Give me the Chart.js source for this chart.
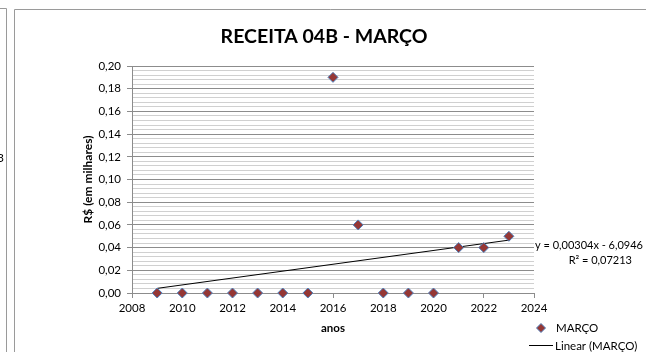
<!DOCTYPE html>
<html>
<head>
<meta charset="utf-8">
<script src="https://cdn.jsdelivr.net/npm/chart.js@4/dist/chart.umd.min.js"></script>
<style>
  html, body { margin: 0; padding: 0; background: #fff; }
  #wrap { position: relative; width: 646px; height: 352px; }
</style>
</head>
<body>
<div id="wrap"><canvas id="c" width="646" height="352"></canvas></div>
<script>
// Chart texts
const chartTitle = 'RECEITA 04B - MARÇO';
const seriesName = 'MARÇO';
const trendName = 'Linear (MARÇO)';
const yAxisTitle = 'R$ (em milhares)';
const xAxisTitle = 'anos';
const equationText = 'y = 0,00304x - 6,0946';
const r2Text = 'R² = 0,07213';
const sideLabel = '3';

// Data: March revenue per year (R$ thousands)
const years = [2009, 2010, 2011, 2012, 2013, 2014, 2015, 2016, 2017, 2018, 2019, 2020, 2021, 2022, 2023];
const marco = [0, 0, 0, 0, 0, 0, 0, 0.19, 0.06, 0, 0, 0, 0.04, 0.04, 0.05];

// Axis tick settings
const xTickMin = 2008, xTickMax = 2024, xTickStep = 2;
const yTickMin = 0, yTickMax = 0.2, yMajorStep = 0.02, yMinorStep = 0.004;

// Least-squares linear trend of the series
function linearFit(xs, ys) {
  const n = xs.length;
  const mx = xs.reduce((a, b) => a + b, 0) / n;
  const my = ys.reduce((a, b) => a + b, 0) / n;
  let sxy = 0, sxx = 0;
  for (let i = 0; i < n; i++) { sxy += (xs[i] - mx) * (ys[i] - my); sxx += (xs[i] - mx) ** 2; }
  const slope = sxy / sxx;
  return { slope, intercept: my - slope * mx };
}
const fit = linearFit(years, marco);
const trendX = [years[0], years[years.length - 1]];

const points = years.map((x, i) => ({ x, y: marco[i] }));
const trendPoints = trendX.map(x => ({ x, y: fit.slope * x + fit.intercept }));

const FONT = 'Lato, "Open Sans", sans-serif';
const isMajor = v => Math.abs(v / yMajorStep - Math.round(v / yMajorStep)) < 1e-6;

const markerFill = '#953735';
const markerEdge = '#4F81BD';

// Frames, title, equation and legend drawn around the plot
const decorations = {
  id: 'decorations',
  beforeDraw(chart) {
    const ctx = chart.ctx;
    ctx.save();
    ctx.fillStyle = '#fff';
    ctx.fillRect(0, 0, chart.width, chart.height);
    ctx.strokeStyle = '#9a9a9a';
    ctx.lineWidth = 1;
    // neighbouring chart frame edge
    ctx.beginPath();
    ctx.moveTo(0, 8.5); ctx.lineTo(6.5, 8.5); ctx.lineTo(6.5, 352);
    ctx.stroke();
    // this chart's frame
    ctx.beginPath();
    ctx.moveTo(14.5, 352); ctx.lineTo(14.5, 9.5); ctx.lineTo(646, 9.5);
    ctx.stroke();
    ctx.fillStyle = '#000';
    ctx.font = '12px ' + FONT;
    ctx.textAlign = 'right';
    ctx.textBaseline = 'alphabetic';
    ctx.fillText(sideLabel, 4, 162);
    ctx.restore();
  },
  afterDraw(chart) {
    const ctx = chart.ctx;
    ctx.save();
    ctx.fillStyle = '#000';
    ctx.textBaseline = 'alphabetic';
    // title
    ctx.font = 'bold 19.5px ' + FONT;
    ctx.textAlign = 'center';
    ctx.fillText(chartTitle, 324, 43);
    // trend equation
    ctx.font = '11px ' + FONT;
    ctx.textAlign = 'right';
    ctx.fillText(equationText, 643, 249);
    ctx.fillText(r2Text, 632, 264);
    // legend
    ctx.font = '11.5px ' + FONT;
    ctx.textAlign = 'left';
    const d = 4.5, lx = 541, ly = 328;
    ctx.beginPath();
    ctx.moveTo(lx, ly - d); ctx.lineTo(lx + d, ly); ctx.lineTo(lx, ly + d); ctx.lineTo(lx - d, ly); ctx.closePath();
    ctx.fillStyle = markerFill; ctx.fill();
    ctx.strokeStyle = markerEdge; ctx.lineWidth = 1; ctx.stroke();
    ctx.fillStyle = '#000';
    ctx.fillText(seriesName, 556, 332);
    ctx.beginPath();
    ctx.moveTo(529, 345.5); ctx.lineTo(553, 345.5);
    ctx.strokeStyle = '#000'; ctx.stroke();
    ctx.fillText(trendName, 555, 350);
    ctx.restore();
  }
};

new Chart(document.getElementById('c'), {
  type: 'scatter',
  data: {
    datasets: [
      {
        label: seriesName,
        data: points,
        pointStyle: 'rectRot',
        pointRadius: 5,
        pointHoverRadius: 5,
        backgroundColor: markerFill,
        borderColor: markerEdge,
        borderWidth: 1,
        clip: false,
        order: 1
      },
      {
        label: trendName,
        type: 'line',
        data: trendPoints,
        showLine: true,
        borderColor: '#000',
        borderWidth: 1,
        pointRadius: 0,
        fill: false,
        clip: false,
        order: 2
      }
    ]
  },
  options: {
    responsive: false,
    animation: false,
    devicePixelRatio: 1,
    layout: { padding: { top: 66, right: 112, left: 0, bottom: 0 } },
    plugins: { legend: { display: false }, tooltip: { enabled: false }, title: { display: false } },
    scales: {
      x: {
        type: 'linear',
        min: xTickMin,
        max: xTickMax,
        afterFit: s => { s.height = 59; },
        ticks: {
          stepSize: xTickStep,
          padding: 3,
          color: '#000',
          font: { family: FONT, size: 11.5 },
          callback: v => String(v)
        },
        grid: { drawOnChartArea: false, drawTicks: true, tickLength: 5, color: '#8c8c8c' },
        border: { display: true, color: '#8c8c8c' },
        title: {
          display: true, text: xAxisTitle, color: '#000',
          font: { family: FONT, size: 11.5, weight: 'bold' },
          padding: { top: 0, bottom: 17 }
        }
      },
      y: {
        type: 'linear',
        min: yTickMin,
        max: yTickMax,
        afterFit: s => { s.width = 132; },
        ticks: {
          stepSize: yMinorStep,
          autoSkip: false,
          padding: 6,
          color: '#000',
          font: { family: FONT, size: 11.5 },
          callback: v => isMajor(v) ? v.toFixed(2).replace('.', ',') : ''
        },
        grid: {
          drawTicks: true,
          tickLength: 5,
          color: c => isMajor(c.tick.value) ? '#8c8c8c' : '#d0d0d0',
          tickColor: c => isMajor(c.tick.value) ? '#8c8c8c' : 'rgba(0,0,0,0)'
        },
        border: { display: true, color: '#8c8c8c' },
        title: {
          display: true, text: yAxisTitle, color: '#000',
          font: { family: FONT, size: 12, weight: 'bold' },
          padding: { top: 81, bottom: 0 }
        }
      }
    }
  },
  plugins: [decorations]
});
</script>
</body>
</html>
